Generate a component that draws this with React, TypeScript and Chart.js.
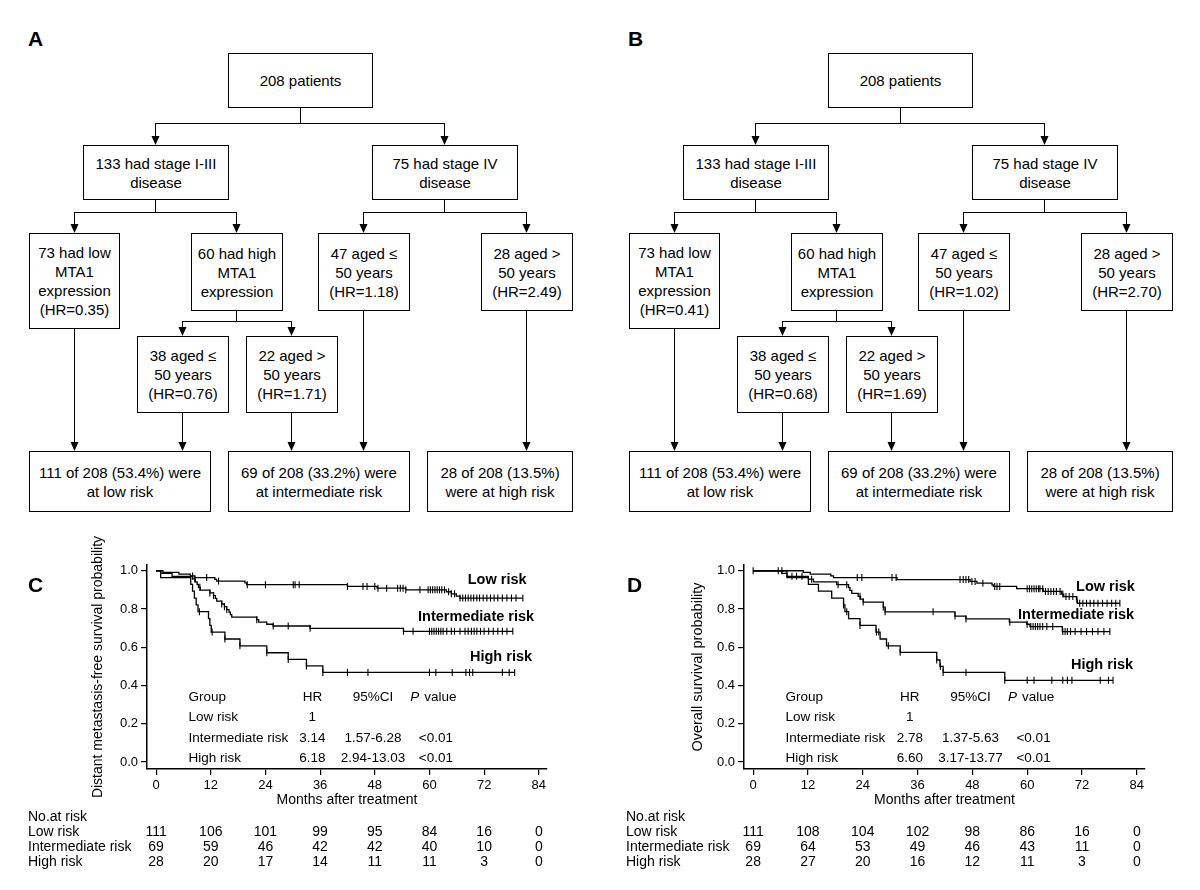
import React, { useEffect, useRef } from "react";
import { Chart, registerables } from "chart.js";

Chart.register(...registerables);

const FONT = '"Liberation Sans", Arial, Helvetica, sans-serif';
Chart.defaults.font.family = FONT;
Chart.defaults.color = "#000";

// ---------- shared axis ticks / labels ----------
const monthTicks = [0, 12, 24, 36, 48, 60, 72, 84];
const survTicks = [0, 0.2, 0.4, 0.6, 0.8, 1.0];
const groupNames = ["Low risk", "Intermediate risk", "High risk"];
const xTitle = "Months after treatment";
const riskTitle = "No.at risk";
const statHeader = ["Group", "HR", "95%CI"];
const pItalic = "P";
const pRest = "value";

// ---------- Panel C: distant metastasis-free survival ----------
const cYTitle = "Distant metastasis-free survival probability";
const cLowTimes = [1.5, 5, 7.5, 8.5, 12.9, 13.3, 19.5, 19.9, 42, 48.5, 54.8, 63.7, 64.8, 65.9, 66.7];
const cLowSurv = [0.991, 0.982, 0.973, 0.964, 0.955, 0.946, 0.937, 0.927, 0.918, 0.909, 0.9, 0.89, 0.879, 0.867, 0.857];
const cLowEnd = 80.5;
const cLowCens = [8, 11.1, 13.7, 20, 24, 30.1, 30.5, 31.4, 42, 45.4, 46.3, 48, 48.7, 50.6, 53, 53.6, 54.2, 54.8, 57.9, 59.7, 60.2, 60.7, 61.2, 61.7, 62.2, 62.7, 63.3, 64.2, 64.8, 65.5, 66.7, 67.3, 67.9, 68.5, 69.1, 69.7, 70.4, 71, 71.8, 72.6, 73.4, 74.2, 75, 76, 77, 78, 79, 80.5];

const cIntTimes = [1, 3.5, 8.0, 8.6, 9.0, 9.3, 9.7, 11.8, 12.6, 13.0, 13.3, 14.4, 15.0, 15.5, 16.0, 16.3, 16.6, 22.1, 22.5, 24.3, 25.7, 33.8, 54.3];
const cIntSurv = [0.986, 0.971, 0.957, 0.942, 0.928, 0.913, 0.899, 0.884, 0.87, 0.855, 0.841, 0.826, 0.812, 0.797, 0.783, 0.77, 0.757, 0.744, 0.731, 0.72, 0.711, 0.699, 0.683];
const cIntEnd = 78.3;
const cIntCens = [8.5, 9.6, 11.8, 12.6, 14.4, 15, 15.5, 22.1, 25.7, 29, 33.8, 54.3, 56.4, 60, 60.5, 61, 61.5, 62, 62.5, 63, 63.8, 64.8, 65.5, 66.7, 67.8, 68.5, 69.2, 69.8, 70.4, 71.2, 72, 73, 74, 75, 76, 77, 78.3];

const cHighTimes = [1, 7.6, 8.0, 8.4, 8.8, 9.2, 11.5, 11.8, 12.1, 15.1, 18.4, 24.3, 29, 33, 36.6];
const cHighSurv = [0.964, 0.929, 0.893, 0.857, 0.821, 0.786, 0.75, 0.714, 0.679, 0.643, 0.607, 0.571, 0.536, 0.502, 0.468];
const cHighEnd = 78.7;
const cHighCens = [9.5, 12.3, 15.1, 18.4, 24.3, 29, 33, 36.6, 42, 46.5, 60, 61.4, 65, 68, 68.8, 69.5, 76, 77.5, 78.7];

const cHR = ["1", "3.14", "6.18"];
const cCI = ["", "1.57-6.28", "2.94-13.03"];
const cP = ["", "<0.01", "<0.01"];
const cRiskLow = [111, 106, 101, 99, 95, 84, 16, 0];
const cRiskInt = [69, 59, 46, 42, 42, 40, 10, 0];
const cRiskHigh = [28, 20, 17, 14, 11, 11, 3, 0];

// ---------- Panel D: overall survival ----------
const dYTitle = "Overall survival probability";
const dLowTimes = [11, 12.5, 17, 17.6, 31.5, 47.5, 49, 52.3, 52.6, 57.7, 63.5, 67.5, 68, 70.8, 71.0];
const dLowSurv = [0.991, 0.982, 0.973, 0.964, 0.954, 0.944, 0.935, 0.926, 0.918, 0.906, 0.892, 0.878, 0.865, 0.848, 0.83];
const dLowEnd = 80.3;
const dLowCens = [0, 5.5, 6.3, 22.8, 23.8, 30.4, 31.3, 45.3, 46, 46.6, 47.2, 47.9, 48.6, 50.3, 52.9, 53.4, 54, 60, 60.5, 61, 61.5, 62, 62.5, 62.8, 63.4, 64, 64.6, 65.2, 65.8, 66.4, 67.2, 67.8, 68.5, 69.2, 70, 70.9, 71.5, 72.2, 73, 73.8, 74.6, 75.5, 76.5, 77.5, 78.5, 79.4, 80.3];

const dIntTimes = [6.3, 7.4, 12.1, 13.2, 18.3, 20.9, 21.2, 21.6, 23.0, 23.5, 24.1, 28.5, 28.9, 44.2, 46.6, 56.1, 59.9, 60.6, 67.7];
const dIntSurv = [0.986, 0.971, 0.956, 0.942, 0.927, 0.912, 0.897, 0.882, 0.866, 0.851, 0.836, 0.81, 0.785, 0.763, 0.748, 0.731, 0.72, 0.708, 0.682];
const dIntEnd = 78.1;
const dIntCens = [8.5, 9.5, 10.7, 12.8, 18.6, 20.5, 23.4, 24.1, 28.5, 28.9, 39.4, 44.2, 46.6, 56.2, 60, 60.8, 61.3, 61.8, 62.3, 62.8, 63.4, 64.3, 65.6, 67.8, 68.3, 68.8, 69.5, 70.5, 71.8, 73, 74.3, 75.5, 76.8, 78.1];

const dHighTimes = [7.4, 12.1, 14.3, 17.2, 19.8, 20.1, 20.9, 23.4, 26.9, 27.8, 29.2, 32.2, 40.2, 40.9, 41.6, 55.1];
const dHighSurv = [0.964, 0.929, 0.893, 0.857, 0.821, 0.786, 0.75, 0.714, 0.679, 0.643, 0.607, 0.573, 0.533, 0.5, 0.468, 0.427];
const dHighEnd = 78.8;
const dHighCens = [19.8, 20.5, 23.4, 27, 27.5, 29.6, 32.2, 40.2, 41, 41.6, 46.6, 55.1, 60, 61.5, 65.4, 67.8, 68.8, 69.8, 76, 77.8, 78.8];

const dHR = ["1", "2.78", "6.60"];
const dCI = ["", "1.37-5.63", "3.17-13.77"];
const dP = ["", "<0.01", "<0.01"];
const dRiskLow = [111, 108, 104, 102, 98, 86, 16, 0];
const dRiskInt = [69, 64, 53, 49, 46, 43, 11, 0];
const dRiskHigh = [28, 27, 20, 16, 12, 11, 3, 0];

// ---------- Flowcharts A / B ----------
const hrA = ["0.35", "0.76", "1.71", "1.18", "2.49"];
const hrB = ["0.41", "0.68", "1.69", "1.02", "2.70"];

// ---------- helpers ----------
function buildCurve(times: number[], surv: number[], end: number) {
  const pts = [{ x: 0, y: 1 }];
  times.forEach((t, i) => pts.push({ x: t, y: surv[i] }));
  pts.push({ x: end, y: surv[surv.length - 1] });
  return pts;
}
function survAt(times: number[], surv: number[], t: number) {
  let s = 1;
  for (let i = 0; i < times.length; i++) if (times[i] <= t) s = surv[i];
  return s;
}
function buildCensor(times: number[], surv: number[], cens: number[]) {
  return cens.map((t) => ({ x: t, y: survAt(times, surv, t) }));
}

type Curve = { times: number[]; surv: number[]; end: number; cens: number[] };
type KMProps = {
  left: number;
  axisLeft: number;
  axisRight: number;
  yTitle: string;
  yTitleSize: number;
  curves: Curve[];
  labelPos: number[][];
  hr: string[];
  ci: string[];
  p: string[];
  risk: number[][];
  riskLabelX: number;
};

const statRowY = [0.34, 0.236, 0.126, 0.021];
const statColX = [7.1, 34.3, 47.6, 55.8, 61.4];

const CANVAS_TOP = 515;
const CANVAS_H = 890 - CANVAS_TOP;
const PLOT_TOP = 565;

function KMChart(props: KMProps) {
  const ref = useRef<HTMLCanvasElement>(null);
  useEffect(() => {
    const datasets: any[] = [];
    props.curves.forEach((c) => {
      datasets.push({
        data: buildCurve(c.times, c.surv, c.end),
        stepped: true,
        borderColor: "#000",
        borderWidth: 1.3,
        pointRadius: 0,
        fill: false,
      });
      datasets.push({
        data: buildCensor(c.times, c.surv, c.cens),
        showLine: false,
        pointStyle: "line",
        pointRotation: 90,
        pointRadius: 3.5,
        pointBorderColor: "#000",
        pointBorderWidth: 1.1,
        borderColor: "#000",
      });
    });

    const extras = {
      id: "kmExtras",
      afterDraw(chart: any) {
        const { ctx, scales, chartArea } = chart;
        const xs = scales.x;
        const ys = scales.y;
        const px = (v: number) => xs.getPixelForValue(v);
        const py = (v: number) => ys.getPixelForValue(v);
        ctx.save();
        ctx.fillStyle = "#000";
        ctx.textBaseline = "middle";
        // curve labels
        ctx.font = `bold 14.5px ${FONT}`;
        ctx.textAlign = "left";
        groupNames.forEach((n, i) => ctx.fillText(n, px(props.labelPos[i][0]), py(props.labelPos[i][1])));
        // stats table
        ctx.font = `13.5px ${FONT}`;
        const hy = py(statRowY[0]);
        ctx.textAlign = "left";
        ctx.fillText(statHeader[0], px(statColX[0]), hy);
        ctx.textAlign = "center";
        ctx.fillText(statHeader[1], px(statColX[1]), hy);
        ctx.fillText(statHeader[2], px(statColX[2]), hy);
        ctx.textAlign = "left";
        ctx.font = `italic 13.5px ${FONT}`;
        const pX = px(statColX[3]);
        ctx.fillText(pItalic, pX, hy);
        const pw = ctx.measureText(pItalic).width;
        ctx.font = `13.5px ${FONT}`;
        ctx.fillText(pRest, pX + pw + 5, hy);
        groupNames.forEach((n, i) => {
          const yy = py(statRowY[i + 1]);
          ctx.textAlign = "left";
          ctx.fillText(n, px(statColX[0]), yy);
          ctx.textAlign = "center";
          ctx.fillText(props.hr[i], px(statColX[1]), yy);
          ctx.fillText(props.ci[i], px(statColX[2]), yy);
          ctx.fillText(props.p[i], px(statColX[4]), yy);
        });
        // number at risk
        ctx.font = `14px ${FONT}`;
        const base = chartArea.bottom;
        ctx.textAlign = "left";
        ctx.fillText(riskTitle, props.riskLabelX, base + 48);
        groupNames.forEach((n, i) => {
          const yy = base + 63 + 15 * i;
          ctx.textAlign = "left";
          ctx.fillText(n, props.riskLabelX, yy);
          ctx.textAlign = "center";
          props.risk[i].forEach((v, j) => ctx.fillText(String(v), px(monthTicks[j]), yy));
        });
        ctx.restore();
      },
    };

    const tickFont = { size: 13, family: FONT };
    const chart = new Chart(ref.current as HTMLCanvasElement, {
      type: "line",
      data: { datasets },
      options: {
        animation: false,
        responsive: false,
        maintainAspectRatio: false,
        events: [],
        layout: { padding: { left: 0, top: PLOT_TOP - CANVAS_TOP, right: 600 - props.axisRight, bottom: 0 } },
        plugins: { legend: { display: false }, tooltip: { enabled: false } },
        scales: {
          x: {
            type: "linear",
            min: -2,
            max: 85.8,
            afterBuildTicks: (s: any) => {
              s.ticks = monthTicks.map((v) => ({ value: v }));
            },
            afterFit: (s: any) => {
              s.height = 121;
            },
            ticks: { font: tickFont, color: "#000", padding: 3, maxRotation: 0, autoSkip: false },
            grid: { display: true, drawOnChartArea: false, drawTicks: true, tickLength: 6, color: "#000", lineWidth: 1.2 },
            border: { display: true, color: "#000", width: 1.5 },
            title: { display: true, text: xTitle, color: "#000", font: { size: 14, family: FONT }, padding: { top: 0, bottom: 81.6 } },
          },
          y: {
            type: "linear",
            min: -0.037,
            max: 1.03,
            afterBuildTicks: (s: any) => {
              s.ticks = survTicks.map((v) => ({ value: v }));
            },
            afterFit: (s: any) => {
              s.width = props.axisLeft;
            },
            ticks: { font: tickFont, color: "#000", padding: 3, callback: (v: any) => Number(v).toFixed(1) },
            grid: { display: true, drawOnChartArea: false, drawTicks: true, tickLength: 6, color: "#000", lineWidth: 1.2 },
            border: { display: true, color: "#000", width: 1.5 },
            title: {
              display: true,
              text: props.yTitle,
              color: "#000",
              font: { size: props.yTitleSize, family: FONT },
              padding: { top: 98 - props.yTitleSize * 0.6, bottom: 0 },
            },
          },
        },
      } as any,
      plugins: [extras],
    });
    return () => chart.destroy();
  }, []);
  return (
    <canvas
      ref={ref}
      width={600}
      height={CANVAS_H}
      style={{ position: "absolute", left: props.left, top: CANVAS_TOP }}
    />
  );
}

// ---------- Flowchart ----------
type Box = { x: number; y: number; w: number; h: number; lines: string[] };

function flowBoxes(hr: string[]): Box[] {
  return [
    { x: 228, y: 53, w: 145, h: 55, lines: ["208 patients"] },
    { x: 83, y: 145, w: 146, h: 55, lines: ["133 had stage I-III", "disease"] },
    { x: 372, y: 145, w: 146, h: 55, lines: ["75 had stage IV", "disease"] },
    { x: 29, y: 233, w: 91, h: 96, lines: ["73 had low", "MTA1", "expression", `(HR=${hr[0]})`] },
    { x: 191, y: 233, w: 92, h: 78, lines: ["60 had high", "MTA1", "expression"] },
    { x: 318, y: 233, w: 92, h: 78, lines: ["47 aged ≤", "50 years", `(HR=${hr[3]})`] },
    { x: 481, y: 233, w: 92, h: 78, lines: ["28 aged >", "50 years", `(HR=${hr[4]})`] },
    { x: 137, y: 336, w: 92, h: 77, lines: ["38 aged ≤", "50 years", `(HR=${hr[1]})`] },
    { x: 246, y: 336, w: 92, h: 77, lines: ["22 aged >", "50 years", `(HR=${hr[2]})`] },
    { x: 29, y: 451, w: 182, h: 61, lines: ["111 of 208 (53.4%) were", "at low risk"] },
    { x: 228, y: 451, w: 182, h: 61, lines: ["69 of 208 (33.2%) were", "at intermediate risk"] },
    { x: 427, y: 451, w: 146, h: 61, lines: ["28 of 208 (13.5%)", "were at high risk"] },
  ];
}

const branches = [
  { fx: 300.5, fy: 108, my: 123, to: [155.5, 444.5], ty: 145 },
  { fx: 155.5, fy: 200, my: 212, to: [74.5, 236.5], ty: 233 },
  { fx: 444.5, fy: 200, my: 212, to: [363.5, 526.5], ty: 233 },
  { fx: 236.5, fy: 311, my: 321, to: [182.5, 291.5], ty: 336 },
];
const drops = [
  [74.5, 329, 451],
  [182.5, 413, 451],
  [291.5, 413, 451],
  [363.5, 311, 451],
  [526.5, 311, 451],
];

function Arrow({ x, y1, y2 }: { x: number; y1: number; y2: number }) {
  return (
    <g>
      <line x1={x} y1={y1} x2={x} y2={y2 - 8} stroke="#000" strokeWidth={1} />
      <polygon points={`${x - 4},${y2 - 9} ${x + 4},${y2 - 9} ${x},${y2}`} fill="#000" />
    </g>
  );
}

function Flow({ ox, hr, letter }: { ox: number; hr: string[]; letter: string }) {
  const boxes = flowBoxes(hr);
  return (
    <>
      <svg width={600} height={520} style={{ position: "absolute", left: ox, top: 0 }}>
        {branches.map((b, i) => (
          <g key={i}>
            <line x1={b.fx} y1={b.fy} x2={b.fx} y2={b.my + 0.5} stroke="#000" strokeWidth={1} />
            <line x1={b.to[0]} y1={b.my + 0.5} x2={b.to[1]} y2={b.my + 0.5} stroke="#000" strokeWidth={1} />
            {b.to.map((tx, j) => (
              <Arrow key={j} x={tx} y1={b.my} y2={b.ty} />
            ))}
          </g>
        ))}
        {drops.map((d, i) => (
          <Arrow key={i} x={d[0]} y1={d[1]} y2={d[2]} />
        ))}
      </svg>
      {boxes.map((b, i) => (
        <div
          key={i}
          style={{
            position: "absolute",
            left: ox + b.x,
            top: b.y,
            width: b.w,
            height: b.h,
            border: "1px solid #000",
            boxSizing: "border-box",
            display: "flex",
            flexDirection: "column",
            justifyContent: "center",
            alignItems: "center",
            textAlign: "center",
            font: `15px/19px ${FONT}`,
            color: "#000",
            background: "#fff",
          }}
        >
          {b.lines.map((l, j) => (
            <div key={j} style={{ whiteSpace: "nowrap" }}>
              {l}
            </div>
          ))}
        </div>
      ))}
      <div style={{ position: "absolute", left: ox + 28, top: 28, font: `bold 21px/21px ${FONT}`, color: "#000" }}>{letter}</div>
    </>
  );
}

export default function App() {
  return (
    <div style={{ position: "absolute", left: 0, top: 0, width: 1200, height: 890, background: "#fff", overflow: "hidden" }}>
      <Flow ox={0} hr={hrA} letter="A" />
      <Flow ox={600} hr={hrB} letter="B" />
      <KMChart
        left={0}
        axisLeft={147}
        axisRight={547}
        yTitle={cYTitle}
        yTitleSize={14}
        curves={[
          { times: cLowTimes, surv: cLowSurv, end: cLowEnd, cens: cLowCens },
          { times: cIntTimes, surv: cIntSurv, end: cIntEnd, cens: cIntCens },
          { times: cHighTimes, surv: cHighSurv, end: cHighEnd, cens: cHighCens },
        ]}
        labelPos={[
          [68.4, 0.954],
          [57.5, 0.757],
          [68.9, 0.548],
        ]}
        hr={cHR}
        ci={cCI}
        p={cP}
        risk={[cRiskLow, cRiskInt, cRiskHigh]}
        riskLabelX={28}
      />
      <KMChart
        left={600}
        axisLeft={144}
        axisRight={545}
        yTitle={dYTitle}
        yTitleSize={14.5}
        curves={[
          { times: dLowTimes, surv: dLowSurv, end: dLowEnd, cens: dLowCens },
          { times: dIntTimes, surv: dIntSurv, end: dIntEnd, cens: dIntCens },
          { times: dHighTimes, surv: dHighSurv, end: dHighEnd, cens: dHighCens },
        ]}
        labelPos={[
          [70.7, 0.913],
          [58, 0.77],
          [69.6, 0.508],
        ]}
        hr={dHR}
        ci={dCI}
        p={dP}
        risk={[dRiskLow, dRiskInt, dRiskHigh]}
        riskLabelX={26}
      />
      <div style={{ position: "absolute", left: 28, top: 574, font: `bold 21px/21px ${FONT}`, color: "#000" }}>C</div>
      <div style={{ position: "absolute", left: 627, top: 574, font: `bold 21px/21px ${FONT}`, color: "#000" }}>D</div>
    </div>
  );
}
